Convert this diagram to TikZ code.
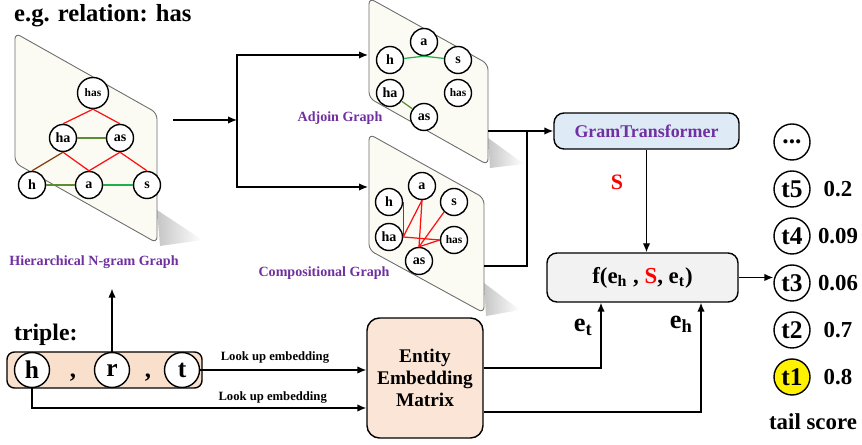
\documentclass[tikz,border=0pt]{standalone}
\usepackage{fontspec}
\setmainfont{Liberation Serif}
\usepackage{tikz}
\usepackage{xcolor}
\usetikzlibrary{arrows.meta, positioning, calc, shapes.geometric}

\definecolor{gpurple}{HTML}{7030A0}
\definecolor{peach}{HTML}{FBE5D6}
\definecolor{tripfill}{HTML}{F9E0CC}
\definecolor{lblue}{HTML}{DEEBF7}
\definecolor{lgray}{HTML}{F2F2F2}
\definecolor{panelfill}{HTML}{FBFBF4}
\definecolor{edgered}{HTML}{FF1010}
\definecolor{edgeolive}{HTML}{5E8C31}
\definecolor{edgegreen}{HTML}{1DB04B}
\definecolor{edgebrown}{HTML}{843C0C}

\tikzset{
  gnode/.style={circle, draw, thick, fill=white, inner sep=0pt, minimum size=0.54cm,
    font=\fontsize{8}{9}\selectfont\bfseries},
  hasnode/.style={gnode, font=\fontsize{6.5}{7}\selectfont\bfseries},
  panel/.style={draw=gray!85!black, line width=0.5pt, fill=panelfill, rounded corners=0.12cm},
  glabel/.style={text=gpurple, font=\fontsize{8}{9}\selectfont\bfseries},
  bigc/.style={circle, draw, thick, fill=white, inner sep=0pt, minimum size=0.7cm,
    font=\fontsize{14.5}{16}\selectfont\bfseries},
  score/.style={bigc, minimum size=0.72cm},
  scoretxt/.style={font=\fontsize{13}{15}\selectfont\bfseries},
  lookup/.style={font=\fontsize{7.2}{8}\selectfont\bfseries},
  arr/.style={thick, -{Latex[length=1.8mm, width=1.5mm]}},
  edge/.style={line width=0.7pt}
}

\begin{document}
\begin{tikzpicture}
\useasboundingbox (0,0) rectangle (17.24,8.9);

\node[anchor=west, font=\fontsize{14}{16}\selectfont\bfseries] (title) at (0.16,8.58) {e.g. relation: has};

% Hierarchical N-gram graph
\shade[left color=gray!45, right color=white] (3.14,4.7) -- (4.05,4.1) -- (3.2,3.98) -- cycle;
\draw[panel] (0.3,8.24) -- (3.14,6.64) -- (3.14,4.04) -- (0.3,5.64) -- cycle;
\node[hasnode, minimum size=0.62cm] (Lhas) at (1.86,7.04) {has};
\node[gnode] (Lha) at (1.26,6.14) {ha};
\node[gnode] (Las) at (2.4,6.14) {as};
\node[gnode] (Lh) at (0.64,5.2) {h};
\node[gnode] (La) at (1.78,5.2) {a};
\node[gnode] (Ls) at (2.94,5.2) {s};
\draw[edge, edgered] (Lhas.south) -- (Lha.north);
\draw[edge, edgered] (Lhas.south) -- (Las.north);
\draw[edge, edgered] (Lha.south) -- (La.north);
\draw[edge, edgered] (Las.south) -- (La.north);
\draw[edge, edgered] (Las.south) -- (Ls.north);
\draw[edge, edgebrown] (Lha.south) -- (Lh.north);
\draw[edge, edgeolive] (Lha) -- (Las);
\draw[edge, edgeolive] (Lh) -- (La);
\draw[edge, edgegreen] (La) -- (Ls);
\node[glabel] (hlabel) at (1.88,3.66) {Hierarchical N-gram Graph};

% Adjoin graph
\shade[left color=gray!45, right color=white] (9.76,6.14) -- (10.48,5.62) -- (9.8,5.54) -- cycle;
\draw[panel] (7.38,8.94) -- (9.76,7.62) -- (9.76,5.6) -- (7.38,6.94) -- cycle;
\node[gnode] (Aa) at (8.48,8.06) {a};
\node[gnode] (Ah) at (7.8,7.7) {h};
\node[gnode] (As) at (9.16,7.7) {s};
\node[gnode] (Aha) at (7.8,7.04) {ha};
\node[hasnode] (Ahas) at (9.16,7.04) {has};
\node[gnode] (Aas) at (8.48,6.56) {as};
\draw[edge, edgegreen] (Ah) -- (Aa.south) -- (As);
\draw[edge, edgeolive] (Aha) -- (Aas);
\node[glabel] (alabel) at (6.8,6.54) {Adjoin Graph};

% Compositional graph
\shade[left color=gray!45, right color=white] (9.68,3.24) -- (10.4,2.7) -- (9.72,2.58) -- cycle;
\draw[panel] (7.38,6.22) -- (9.68,4.94) -- (9.68,2.64) -- (7.38,3.9) -- cycle;
\node[gnode] (Ca) at (8.44,5.18) {a};
\node[gnode] (Ch) at (7.78,4.86) {h};
\node[gnode] (Cs) at (9.08,4.86) {s};
\node[gnode] (Cha) at (7.78,4.16) {ha};
\node[hasnode] (Chas) at (9.08,4.1) {has};
\node[gnode] (Cas) at (8.38,3.68) {as};
\draw[edge, edgebrown] (Ch.east) -- (Cha.east);
\draw[edge, edgered] (Cha.east) -- (Ca.south);
\draw[edge, edgered] (Cha.east) -- (Chas.west);
\draw[edge, edgered] (Ca.south) -- (Cas.north);
\draw[edge, edgered] (Cs.south west) -- (Cas.north);
\draw[edge, edgered] (Chas.west) -- (Cas.north);
\node[glabel] (clabel) at (6.48,3.44) {Compositional Graph};

% split into the two graphs
\coordinate (hout) at (3.46,6.5);
\coordinate (split) at (4.74,6.5);
\coordinate (adjin) at (7.36,7.8);
\coordinate (compin) at (7.36,5.16);
\draw[arr] (hout) -- (split);
\draw[arr] (split) |- (adjin);
\draw[arr] (split) |- (compin);

% GramTransformer and score function
\node[draw, thick, rounded corners=0.2cm, fill=lblue, minimum width=3.7cm, minimum height=0.72cm,
  text=gpurple, font=\fontsize{10.2}{12}\selectfont\bfseries] (gt) at (12.93,6.28) {GramTransformer};
\coordinate (adjout) at (9.76,6.28);
\coordinate (compout) at (9.68,3.58);
\coordinate (join) at (10.54,6.28);
\draw[arr] (adjout) -- (gt.west);
\draw[thick] (compout) -| (join);

\node[draw, thick, rounded corners=0.2cm, fill=lgray, minimum width=3.82cm, minimum height=0.98cm,
  font=\fontsize{13}{15}\selectfont\bfseries] (fb) at (12.85,3.35)
  {f(e\textsubscript{h} , \textcolor{red}{S}, e\textsubscript{t})};
\node[text=red, font=\fontsize{12.5}{14}\selectfont\bfseries] (slbl) at (12.34,5.26) {S};
\draw[arr] (gt.south) -- (gt.south |- fb.north);

% triple
\node[anchor=west, font=\fontsize{13.5}{16}\selectfont\bfseries] (triplelbl) at (0.16,2.2) {triple:};
\node[draw, thick, rounded corners=0.15cm, fill=tripfill, minimum width=3.9cm, minimum height=0.72cm] (tribox) at (2.09,1.5) {};
\node[bigc] (th) at (0.64,1.5) {h};
\node[bigc] (tr) at (2.24,1.5) {r};
\node[bigc] (tt) at (3.64,1.5) {t};
\node[anchor=base, font=\fontsize{14}{16}\selectfont\bfseries] (c1) at (1.46,1.34) {,};
\node[anchor=base, font=\fontsize{14}{16}\selectfont\bfseries] (c2) at (2.96,1.34) {,};
\draw[arr, shorten >=8pt] (tr.north) -- (tr.north |- hlabel.south);

% entity embeddings
\node[draw, thick, rounded corners=0.25cm, fill=peach, minimum width=2.32cm, minimum height=2.4cm,
  align=center, font=\fontsize{11}{12.5}\selectfont\bfseries] (eem) at (8.5,1.34) {Entity\\Embedding\\Matrix};
\draw[arr] (tt.east) -- (tt.east -| eem.west) node[pos=0.45, above, lookup] {Look up embedding};
\draw[arr] (th.south) |- ([yshift=-0.6cm]eem.west) node[pos=0.86, above=-1pt, lookup] {Look up embedding};
\draw[arr] ([yshift=0.2cm]eem.east) -| ([xshift=-0.83cm]fb.south)
  node[pos=0.81, left=1pt, font=\fontsize{15}{17}\selectfont\bfseries] {e\textsubscript{t}};
\draw[arr] ([yshift=-0.68cm]eem.east) -| ([xshift=1.17cm]fb.south)
  node[pos=0.9, left=1pt, font=\fontsize{15}{17}\selectfont\bfseries] {e\textsubscript{h}};

% tail scores
\node[score] (tdots) at (15.84,6.06) {...};
\foreach \n/\sc/\y in {t2/0.7/2.3, t3/0.06/3.24, t4/0.09/4.18, t5/0.2/5.12}{
  \node[score] (\n) at (15.84,\y) {\n};
  \node[scoretxt] (s\n) at (16.76,\y) {\sc};
}
\node[score, fill=yellow] (t1) at (15.84,1.36) {t1};
\node[scoretxt] (st1) at (16.76,1.36) {0.8};
\node[scoretxt] (tailscore) at (16.26,0.46) {tail score};
\draw[arr] (fb.east) -- (fb.east -| t3.west);
\end{tikzpicture}
\end{document}
